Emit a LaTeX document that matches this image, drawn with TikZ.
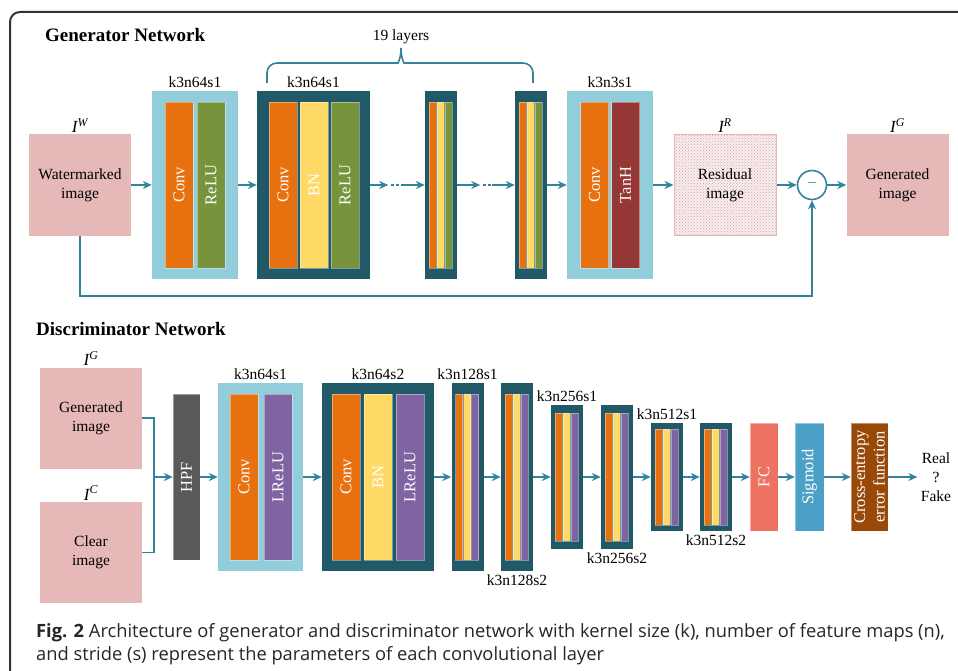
\documentclass[tikz,border=0pt]{standalone}
\usepackage{fontspec}
\setmainfont{Liberation Serif}
\newfontfamily\capfont{Open Sans}
\usetikzlibrary{arrows.meta, calc, positioning, patterns}

\definecolor{arrowteal}{HTML}{31849B}
\definecolor{imgpink}{HTML}{E6B9B8}
\definecolor{liteblue}{HTML}{92CDDC}
\definecolor{deepteal}{HTML}{215968}
\definecolor{convorange}{HTML}{E8710F}
\definecolor{bnyellow}{HTML}{FFD966}
\definecolor{relugreen}{HTML}{77933C}
\definecolor{lrelupurple}{HTML}{8064A2}
\definecolor{tanhred}{HTML}{953735}
\definecolor{hpfgray}{HTML}{595959}
\definecolor{fcred}{HTML}{EE7262}
\definecolor{sigblue}{HTML}{4BA0C8}
\definecolor{cebrown}{HTML}{984807}

\begin{document}
\begin{tikzpicture}[x=1pt, y=-1pt, >={Stealth[length=9pt,width=8pt]},
  txt/.style={font=\fontsize{15.5}{19}\selectfont},
  lbl/.style={txt, inner sep=3pt},
  sup/.style={font=\itshape\fontsize{17}{20}\selectfont, inner sep=1.5pt},
  title/.style={font=\bfseries\fontsize{19}{22}\selectfont, anchor=base west, inner sep=0pt},
  img/.style={txt, fill=imgpink, minimum width=102pt, minimum height=101pt, align=center, inner sep=0pt},
  lite/.style={fill=liteblue, minimum width=#1, minimum height=188pt, inner sep=0pt},
  deep/.style={fill=deepteal, minimum width=#1, inner sep=0pt},
  bar/.style={rotate=90, fill=#1, draw=white, draw opacity=0.4, line width=0.4pt, text=white,
    font=\fontsize{16.5}{19.5}\selectfont, minimum width=166pt, minimum height=28pt, inner sep=0pt},
  flow/.style={->, draw=arrowteal, line width=1.6pt},
  link/.style={draw=arrowteal, line width=1.6pt},
  caption/.style={anchor=base west, inner sep=0pt, font=\capfont\fontsize{18.3}{23}\selectfont, text=black!85}]
  \useasboundingbox (0,0) rectangle (958,671);
  \clip (0,0) rectangle (958,671);
  % frame
  \draw[line width=2pt, black!80, rounded corners=10pt] (10,700) -- (10,12) -- (1000,12);

  % generator
  \node[title] at (45,42) {Generator Network};
  \node[img] (wm) at (80,185) {Watermarked\\image};
  \node[lite=86pt] (g1) at (195,185) {};
  \node[bar=convorange] at (179,185) {Conv};
  \node[bar=relugreen] at (211,185) {ReLU};
  \node[deep=113pt, minimum height=188pt] (g2) at (313.5,185) {};
  \node[bar=convorange] at (283,185) {Conv};
  \node[bar=bnyellow] at (314,185) {BN};
  \node[bar=relugreen] at (345,185) {ReLU};
  \foreach \n/\cx in {g3/441, g4/531}{
    \node[deep=32pt, minimum height=188pt] (\n) at (\cx,185) {};
    \node[bar=convorange, minimum height=7pt] at ({\cx-8.5},185) {};
    \node[bar=bnyellow, minimum height=7pt] at ({\cx-0.5},185) {};
    \node[bar=relugreen, minimum height=7pt] at ({\cx+7.5},185) {};
  }
  \node[lite=86pt] (g5) at (610,185) {};
  \node[bar=convorange] at (594.5,185) {Conv};
  \node[bar=tanhred] at (625.5,185) {TanH};
  \node[img, fill=imgpink!25, draw=imgpink, line width=1pt,
    postaction={pattern=crosshatch dots, pattern color=imgpink!90!black}] (res) at (725,185) {Residual\\image};
  \node[circle, draw=arrowteal, line width=1.6pt, fill=white, text=arrowteal, minimum size=29pt,
    inner sep=0pt, txt] (minus) at (812,185) {--};
  \node[img] (gen) at (897.5,185) {Generated\\image};

  \node[lbl, above=0pt of g1] {k3n64s1};
  \node[lbl, above=0pt of g2] {k3n64s1};
  \node[lbl, above=0pt of g5] {k3n3s1};
  \node[sup, above=0pt of wm] {I\textsuperscript{W}};
  \node[sup, above=0pt of res] {I\textsuperscript{R}};
  \node[sup, above=0pt of gen] {I\textsuperscript{G}};

  % 19 layers brace
  \coordinate (peak) at (401,48);
  \draw[link, rounded corners=10pt] (267,83) -- (267,63) -- (388,63)
    .. controls (398,63) and (401,58) .. (peak);
  \draw[link, rounded corners=10pt] (533,83) -- (533,63) -- (414,63)
    .. controls (404,63) and (401,58) .. (peak);
  \node[txt, above=1pt of peak] {19 layers};

  \draw[flow] (wm) -- (g1);
  \draw[flow] (g1) -- (g2);
  \draw[flow] (g2.east) -- ++(18,0) coordinate (e1);
  \draw[link, dash pattern=on 2.5pt off 2.5pt] ($(e1)+(3,0)$) -- ++(12,0) coordinate (e2);
  \draw[flow] (e2) -- (g3);
  \draw[flow] (g3.east) -- ++(23,0) coordinate (e3);
  \draw[link, dash pattern=on 2.5pt off 2.5pt] ($(e3)+(3,0)$) -- ++(9,0) coordinate (e4);
  \draw[flow] (e4) -- (g4);
  \draw[flow] (g4) -- (g5);
  \draw[flow] (g5) -- (res);
  \draw[flow] (res) -- (minus);
  \draw[flow] (minus) -- (gen);
  \draw[flow] (wm.south) -- ++(0,60) -| (minus.south);

  % discriminator
  \node[title] at (36,335) {Discriminator Network};
  \node[img] (dg) at (91,418) {Generated\\image};
  \node[img] (dc) at (91,552.5) {Clear\\image};
  \node[sup, above=0pt of dg] {I\textsuperscript{G}};
  \node[sup, above=0pt of dc] {I\textsuperscript{C}};
  \coordinate (jn) at (154,477);
  \draw[link] (dg.east) -| (jn) |- (dc.east);

  \node[bar=hpfgray, minimum height=27pt] (hpf) at (186.5,477) {HPF};
  \node[lite=85pt] (d1) at (260.5,477) {};
  \node[bar=convorange] at (244,477) {Conv};
  \node[bar=lrelupurple] at (278,477) {LReLU};
  \node[deep=112pt, minimum height=188pt] (d2) at (378,477) {};
  \node[bar=convorange] at (346,477) {Conv};
  \node[bar=bnyellow] at (378,477) {BN};
  \node[bar=lrelupurple] at (410,477) {LReLU};
  \foreach \n/\cx/\h/\s in {d3/467.5/188/166, d4/517/188/166, d5/567/144/128,
      d6/617/144/128, d7/667/108/96, d8/716/108/96}{
    \node[deep=32pt, minimum height=\h pt] (\n) at (\cx,477) {};
    \node[bar=convorange, minimum width=\s pt, minimum height=7pt] at ({\cx-8.5},477) {};
    \node[bar=bnyellow, minimum width=\s pt, minimum height=7pt] at ({\cx-0.5},477) {};
    \node[bar=lrelupurple, minimum width=\s pt, minimum height=7pt] at ({\cx+7.5},477) {};
  }
  \node[bar=fcred, minimum width=108pt] (fc) at (764,477) {FC};
  \node[bar=sigblue, minimum width=108pt, minimum height=29pt] (sig) at (809.5,477) {Sigmoid};
  \node[bar=cebrown, minimum width=108pt, minimum height=37pt, align=center] (ce) at (869.5,477)
    {Cross-entropy\\error function};
  \node[txt, align=center] (out) at (936,477) {Real\\?\\Fake};

  \node[lbl, above=0pt of d1] {k3n64s1};
  \node[lbl, above=0pt of d2] {k3n64s2};
  \node[lbl, above=0pt of d3] {k3n128s1};
  \node[lbl, below=0pt of d4] {k3n128s2};
  \node[lbl, above=0pt of d5] {k3n256s1};
  \node[lbl, below=0pt of d6] {k3n256s2};
  \node[lbl, above=0pt of d7] {k3n512s1};
  \node[lbl, below=0pt of d8] {k3n512s2};

  \draw[flow] (jn) -- (hpf);
  \foreach \a/\b in {hpf/d1, d1/d2, d2/d3, d3/d4, d4/d5, d5/d6, d6/d7, d7/d8, d8/fc, fc/sig,
      sig/ce, ce/out}
    \draw[flow] (\a) -- (\b);

  % caption
  \node[caption] (cap1) at (36,637) {\textbf{Fig. 2} Architecture of generator and discriminator network with kernel size (k), number of feature maps (n),};
  \node[caption] (cap2) at (36,660) {and stride (s) represent the parameters of each convolutional layer};
\end{tikzpicture}
\end{document}
